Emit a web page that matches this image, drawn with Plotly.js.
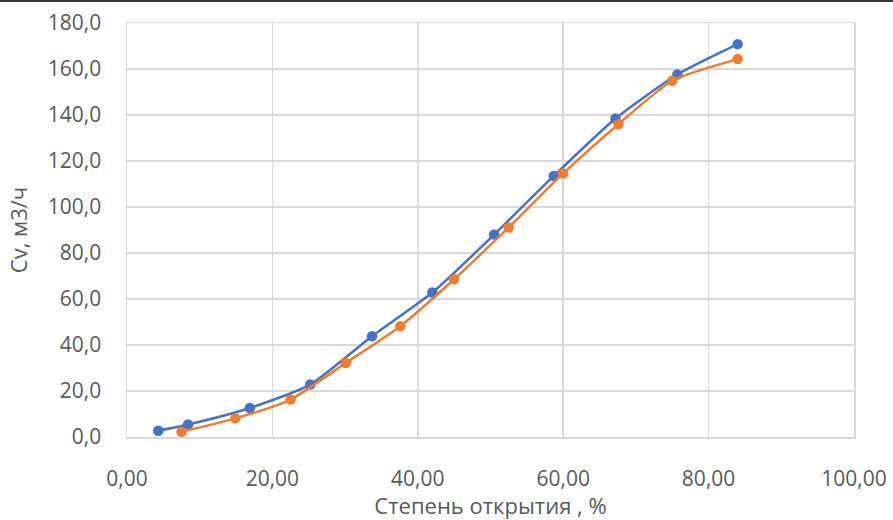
<!DOCTYPE html>
<html>
<head>
<meta charset="utf-8">
<script src="https://cdn.plot.ly/plotly-3.0.1.min.js"></script>
<style>
html,body{margin:0;padding:0;background:#fff;}
#chart{width:893px;height:518px;border-top:2px solid #3a3a3a;}
</style>
</head>
<body>
<div id="chart"></div>
<script>
// Series 1 (blue)
const blueX = [4.3, 8.4, 16.9, 25.2, 33.7, 42.0, 50.5, 58.7, 67.2, 75.7, 84.0];
const blueY = [2.7, 5.4, 12.6, 22.8, 43.8, 62.8, 88.0, 113.5, 138.5, 157.6, 170.8];
// Series 2 (orange)
const orangeX = [7.5, 14.9, 22.5, 30.1, 37.6, 45.0, 52.5, 60.0, 67.6, 75.0, 84.0];
const orangeY = [2.3, 8.1, 16.3, 32.2, 48.2, 68.6, 91.1, 114.6, 136.0, 154.9, 164.3];

const xTitle = 'Степень открытия , %';
const yTitle = 'Cv, м3/ч';

const fontFam = '"Open Sans", "Noto Sans", sans-serif';
const txtColor = '#595959';
const gridColor = '#d9d9d9';

const traces = [
  {x: blueX, y: blueY, mode: 'lines+markers', type: 'scatter',
   line: {color: '#4472C4', width: 2.5, shape: 'spline', smoothing: 0.6},
   marker: {color: '#4472C4', size: 10.5}},
  {x: orangeX, y: orangeY, mode: 'lines+markers', type: 'scatter',
   line: {color: '#ED7D31', width: 2.5, shape: 'spline', smoothing: 0.6},
   marker: {color: '#ED7D31', size: 10.5}}
];

const layout = {
  width: 893, height: 518,
  margin: {l: 127, r: 39, t: 21, b: 83},
  paper_bgcolor: '#fff', plot_bgcolor: '#fff',
  separators: ', ',
  showlegend: false,
  font: {family: fontFam, color: txtColor, size: 21},
  xaxis: {
    range: [0, 100], dtick: 20, tick0: 0, tickformat: '.2f',
    showgrid: true, gridcolor: gridColor, gridwidth: 1.5,
    zeroline: false, showline: true, linecolor: gridColor, linewidth: 1.5, mirror: true,
    ticks: 'outside', ticklen: 22, tickcolor: 'rgba(0,0,0,0)',
    tickfont: {family: fontFam, size: 21, color: txtColor},
    title: {text: xTitle, font: {family: fontFam, size: 22, color: txtColor}, standoff: 19}
  },
  yaxis: {
    range: [0, 180], dtick: 20, tick0: 0, tickformat: '.1f',
    showgrid: true, gridcolor: gridColor, gridwidth: 1.5,
    zeroline: false, showline: true, linecolor: gridColor, linewidth: 1.5, mirror: true,
    ticks: 'outside', ticklen: 20, tickcolor: 'rgba(0,0,0,0)',
    tickfont: {family: fontFam, size: 21, color: txtColor},
    title: {text: yTitle, font: {family: fontFam, size: 22, color: txtColor}, standoff: 14}
  }
};

Plotly.newPlot('chart', traces, layout, {displayModeBar: false, staticPlot: true});
</script>
</body>
</html>
